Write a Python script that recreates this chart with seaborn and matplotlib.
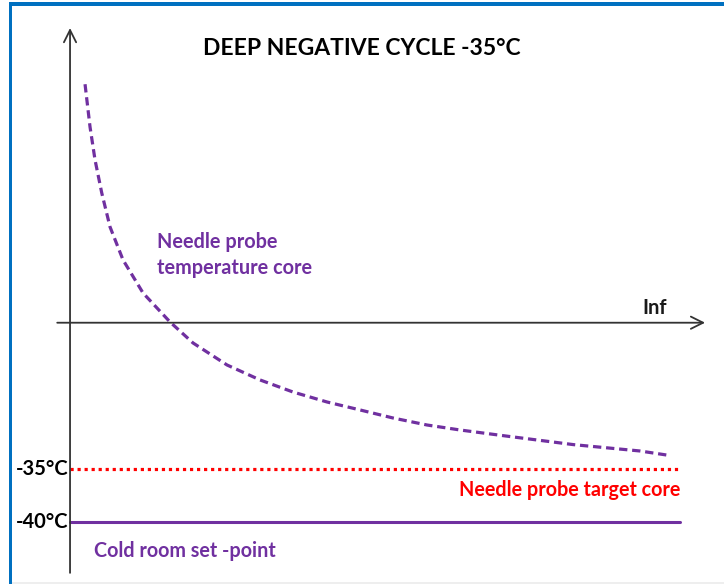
import matplotlib
matplotlib.use("Agg")
import matplotlib.pyplot as plt
import seaborn as sns
import pandas as pd
from matplotlib.patches import Rectangle

# ---- data (schematic values) ----
time = [2.46, 3.28, 4.10, 5.20, 6.56, 8.69, 11.97, 16.39, 20.16, 25.74,
        31.15, 36.56, 42.13, 47.54, 52.95, 58.52, 63.93, 71.6, 82.5, 93.4, 98.0]
probe_temp = [1.3, -2.74, -5.85, -8.96, -12.17, -15.28, -18.40, -21.13,
              -23.11, -25.19, -26.60, -27.74, -28.68, -29.43, -30.19, -30.85,
              -31.32, -31.9, -32.7, -33.3, -33.7]
target_temp = -35
setpoint_temp = -40
line_span = [0, 100]
tick_labels = ["-35°C", "-40°C"]
title = "DEEP NEGATIVE CYCLE -35°C"
curve_label = ["Needle probe", "temperature core"]
target_label = "Needle probe target core"
setpoint_label = "Cold room set -point"
x_label = "Inf"

PURPLE = "#7030A0"
RED = "#FF0000"
BLUE = "#0070C0"

sns.set_theme(style="white")
plt.rcParams["font.family"] = ["Lato", "DejaVu Sans"]

fig = plt.figure(figsize=(7.24, 5.84), dpi=100)
ax = fig.add_axes([0, 0, 1, 1])
ax.set_xlim(-11.48, 107.2)
ax.set_ylim(-45.85, 9.245)
ax.axis("off")

df = pd.DataFrame({"time": time, "temp": probe_temp})
sns.lineplot(data=df, x="time", y="temp", ax=ax, color=PURPLE, lw=2.3,
             linestyle=(0, (2.6, 1.5)), sort=False)
ax.lines[-1].set_dash_capstyle("butt")

sns.lineplot(x=line_span, y=[target_temp, target_temp], ax=ax, color=RED,
             lw=2.3, linestyle=(0, (1, 1.2)))
sns.lineplot(x=line_span, y=[setpoint_temp, setpoint_temp], ax=ax,
             color=PURPLE, lw=2.2)

# axes with arrows
axis_y = -21.2
ax.annotate("", xy=(104.1, axis_y), xytext=(-2.1, axis_y),
            arrowprops=dict(arrowstyle="->", color="#333333", lw=1.3,
                            mutation_scale=22, shrinkA=0, shrinkB=0))
ax.annotate("", xy=(0, 6.6), xytext=(0, -44.8),
            arrowprops=dict(arrowstyle="->", color="#333333", lw=1.3,
                            mutation_scale=22, shrinkA=0, shrinkB=0))

# texts
ax.text(47.9, 4.7, title, ha="center", va="center", fontsize=16.5,
        fontweight="bold", color="black")
ax.text(14.3, -13.6, curve_label[0], ha="left", va="center", fontsize=14.3,
        fontweight="bold", color=PURPLE)
ax.text(14.3, -16.05, curve_label[1], ha="left", va="center", fontsize=14.3,
        fontweight="bold", color=PURPLE)
ax.text(95.9, -19.8, x_label, ha="center", va="center", fontsize=14.5,
        fontweight="bold", color="#1a1a1a")
ax.text(100, -37.0, target_label, ha="right", va="center", fontsize=14.2,
        fontweight="bold", color=RED)
ax.text(3.9, -42.7, setpoint_label, ha="left", va="center", fontsize=14.2,
        fontweight="bold", color=PURPLE)
for lab, val in zip(tick_labels, [target_temp, setpoint_temp]):
    ax.text(-0.3, val, lab, ha="right", va="center", fontsize=14.5,
            fontweight="bold", color="black")

# blue frame (top and left) and faint bottom line
fig.add_artist(Rectangle((9 / 724, 0), 3 / 724, 1 - 2 / 584,
                         transform=fig.transFigure, color=BLUE, lw=0))
fig.add_artist(Rectangle((9 / 724, 1 - 6 / 584), 1, 4 / 584,
                         transform=fig.transFigure, color=BLUE, lw=0))
fig.add_artist(Rectangle((12 / 724, 0), 1, 2 / 584,
                         transform=fig.transFigure, color="#eeeeee", lw=0))

fig.savefig("out.png", dpi=100)
